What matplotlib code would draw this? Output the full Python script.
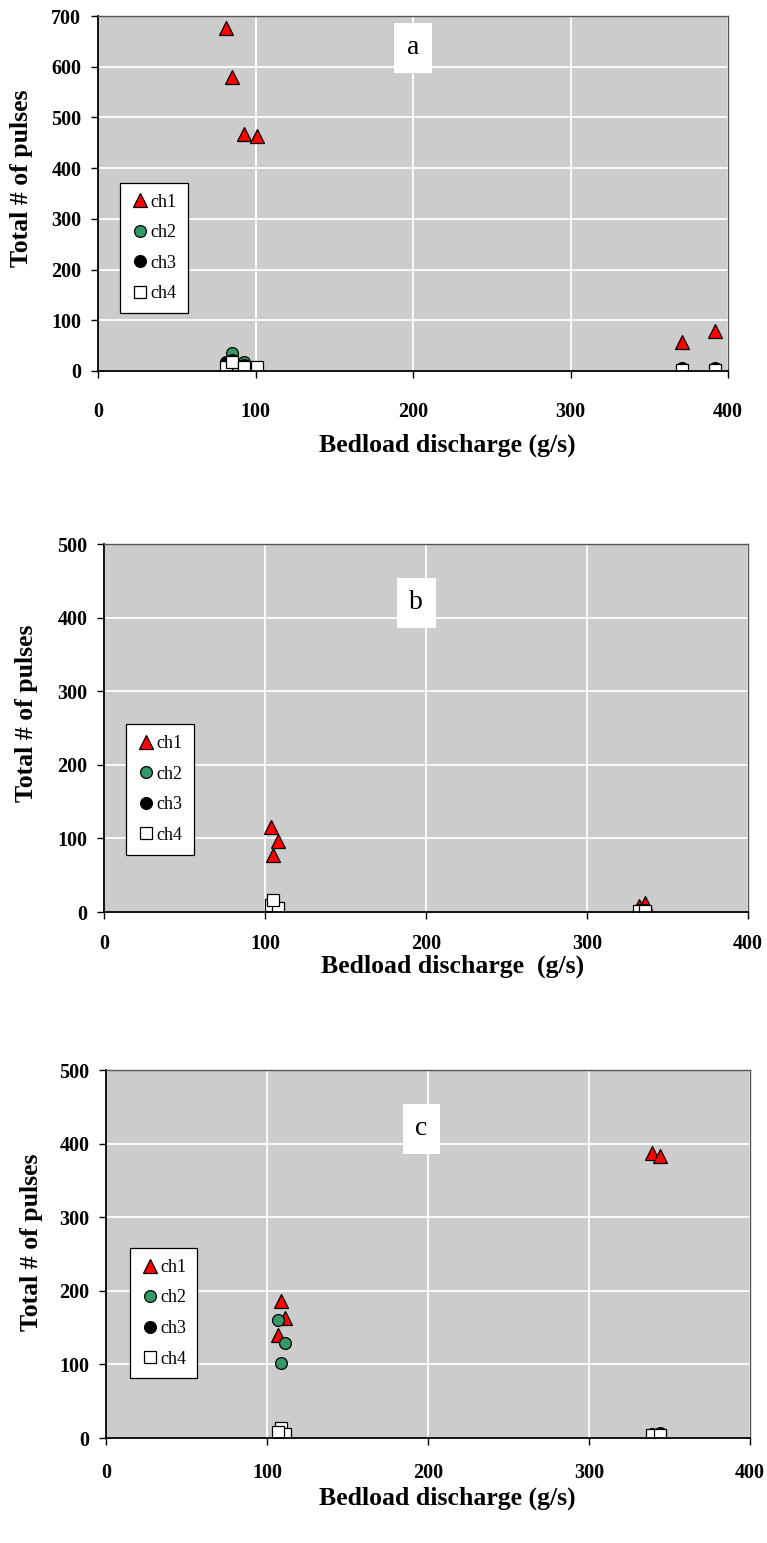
import numpy as np
import matplotlib
matplotlib.use("Agg")
import matplotlib.pyplot as plt

plt.rcParams["font.family"] = ["Liberation Serif", "DejaVu Serif"]

# panel a
x_a = [81, 85, 93, 101, 371, 392]
a_ch1 = [676, 580, 467, 464, 57, 79]
a_ch2 = [14, 35, 18, 8, 4, 4]
a_ch3 = [18, 22, 12, 6, 6, 6]
a_ch4 = [8, 18, 8, 8, 2, 2]

# panel b
x_b = [104, 108, 105, 332, 336]
b_ch1 = [115, 96, 77, 8, 12]
b_ch2 = [4, 3, 5, 2, 2]
b_ch3 = [6, 4, 6, 3, 3]
b_ch4 = [10, 5, 16, 2, 2]

# panel c
x_c = [109, 111, 107, 339, 344]
c_ch1 = [186, 163, 140, 387, 383]
c_ch2 = [102, 129, 161, 4, 4]
c_ch3 = [6, 6, 6, 5, 7]
c_ch4 = [14, 6, 8, 4, 4]

channels = ["ch1", "ch2", "ch3", "ch4"]
x_ticks = [0, 100, 200, 300, 400]

W, H = 767, 1543
fig = plt.figure(figsize=(W / 100, H / 100), dpi=100)


def panel(rect, x, series, ymax, letter, letter_pos, leg_pos, xpad, xlab_pos, ylab_pos, xlabel):
    l, t, r, b = rect
    ax = fig.add_axes([l / W, (H - b) / H, (r - l) / W, (b - t) / H])
    ax.set_facecolor("#cccccc")
    ax.set_axisbelow(True)
    ax.grid(True, color="white", linewidth=1.3)

    styles = [
        dict(marker="^", color="#ff0000", ms=10),
        dict(marker="o", color="#339966", ms=8.5),
        dict(marker="o", color="#000000", ms=8.5),
        dict(marker="s", color="#ffffff", ms=8.5),
    ]
    for name, y, st in zip(channels, series, styles):
        ax.plot(x, y, linestyle="none", marker=st["marker"], markersize=st["ms"],
                markerfacecolor=st["color"], markeredgecolor="black",
                markeredgewidth=0.9, label=name)

    ax.set_xlim(0, 400)
    ax.set_ylim(0, ymax)
    ax.set_xticks(x_ticks)
    ax.set_yticks(np.arange(0, ymax + 1, 100))
    ax.tick_params(direction="out", length=5, width=1, labelsize=14.5)
    ax.tick_params(axis="x", pad=xpad)
    ax.tick_params(axis="y", pad=7)
    for lab in ax.get_xticklabels() + ax.get_yticklabels():
        lab.set_fontweight("bold")

    for side in ["left", "bottom"]:
        ax.spines[side].set_color("black")
        ax.spines[side].set_linewidth(1.3)
    for side in ["top", "right"]:
        ax.spines[side].set_color("#555555")
        ax.spines[side].set_linewidth(1.0)

    # label positions given in pixels of the figure
    ax.set_xlabel(xlabel, fontsize=18.5, fontweight="bold", va="center")
    ax.xaxis.set_label_coords((xlab_pos[0] - l) / (r - l), (b - xlab_pos[1]) / (b - t))
    ax.set_ylabel("Total # of pulses", fontsize=18.5, fontweight="bold", va="center")
    ax.yaxis.set_label_coords((ylab_pos[0] - l) / (r - l), (b - ylab_pos[1]) / (b - t))

    ax.text(letter_pos[0], letter_pos[1], letter, transform=ax.transAxes,
            fontsize=20, ha="center", va="center",
            bbox=dict(facecolor="white", edgecolor="none", pad=9))

    leg = ax.legend(loc="upper left", bbox_to_anchor=leg_pos, frameon=True,
                    fancybox=False, edgecolor="black", framealpha=1,
                    fontsize=13, handletextpad=0.1, handlelength=1.0,
                    labelspacing=0.75, borderpad=0.6, borderaxespad=0)
    leg.get_frame().set_linewidth(0.9)
    return ax


panel((98, 16, 728, 371), x_a, [a_ch1, a_ch2, a_ch3, a_ch4], 700, "a",
      (0.5, 0.91), (0.035, 0.53), 17, (447, 445), (22, 178), "Bedload discharge (g/s)")
panel((104, 544, 748, 912), x_b, [b_ch1, b_ch2, b_ch3, b_ch4], 500, "b",
      (0.485, 0.84), (0.034, 0.51), 11, (453, 966), (27, 713), "Bedload discharge  (g/s)")
panel((106, 1070, 750, 1438), x_c, [c_ch1, c_ch2, c_ch3, c_ch4], 500, "c",
      (0.49, 0.84), (0.037, 0.516), 13, (447, 1498), (32, 1242), "Bedload discharge (g/s)")

fig.savefig("out.png", dpi=100)
